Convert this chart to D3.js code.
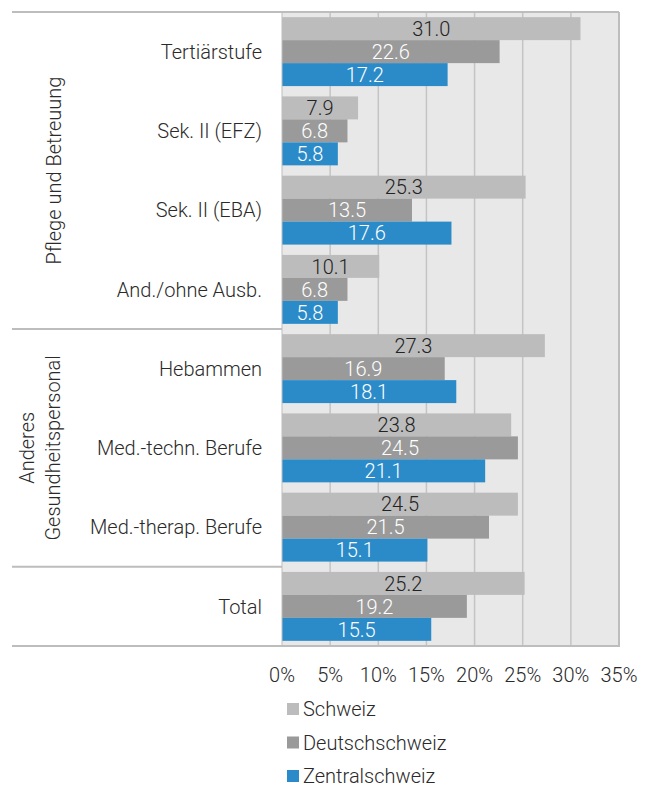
<!DOCTYPE html>
<html><head><meta charset="utf-8">
<script src="https://cdn.jsdelivr.net/npm/d3@7"></script>
<style>
body{margin:0;background:#fff;}
text{font-family:Roboto,"Noto Sans",sans-serif;font-weight:300;}
</style></head>
<body>
<svg id="c" width="651" height="788"></svg>
<script>
const categories = ["Tertiärstufe","Sek. II (EFZ)","Sek. II (EBA)","And./ohne Ausb.","Hebammen","Med.-techn. Berufe","Med.-therap. Berufe","Total"];
const seriesNames = ["Schweiz","Deutschschweiz","Zentralschweiz"];
const schweiz = [31.0,7.9,25.3,10.1,27.3,23.8,24.5,25.2];
const deutschschweiz = [22.6,6.8,13.5,6.8,16.9,24.5,21.5,19.2];
const zentralschweiz = [17.2,5.8,17.6,5.8,18.1,21.1,15.1,15.5];
const tickValues = [0,5,10,15,20,25,30,35];
const groups = [
  {lines:["Pflege und Betreuung"], from:0, to:3},
  {lines:["Anderes","Gesundheitspersonal"], from:4, to:6}
];
(function(){
const colors = ["#bcbcbc","#9a9a9a","#2b8bc9"];
const textColors = ["#222222","#ffffff","#ffffff"];
const seriesData = [schweiz, deutschschweiz, zentralschweiz];
const fs = 20;

const svg = d3.select("#c");
const pL = 282, pR = 619, pT = 12, pB = 646;
const x = d3.scaleLinear().domain([0,35]).range([pL,pR]);
const y = d3.scaleBand().domain(categories).range([pT,pB]).paddingInner(0.13).paddingOuter(0.065);
const ys = d3.scaleBand().domain(seriesNames).range([0,y.bandwidth()]);

svg.append("rect").attr("x",pL).attr("y",pT).attr("width",pR-pL).attr("height",pB-pT).attr("fill","#e8e8e8");
svg.append("g").selectAll("line").data(tickValues.slice(1,-1)).join("line")
  .attr("x1",d=>x(d)).attr("x2",d=>x(d)).attr("y1",pT).attr("y2",pB)
  .attr("stroke","#c4c4c4").attr("stroke-width",1.5);

const cg = svg.append("g").selectAll("g").data(categories).join("g")
  .attr("transform",d=>`translate(0,${y(d)})`);
seriesNames.forEach((s,si)=>{
  cg.append("rect")
    .attr("x",x(0)).attr("y",ys(s))
    .attr("width",(d,i)=>x(seriesData[si][i])-x(0))
    .attr("height",ys.bandwidth())
    .attr("fill",colors[si]);
  cg.append("text")
    .attr("x",(d,i)=>(x(0)+x(seriesData[si][i]))/2)
    .attr("y",ys(s)+ys.bandwidth()/2)
    .attr("dy","0.36em")
    .attr("text-anchor","middle")
    .attr("font-size",fs)
    .attr("fill",textColors[si])
    .text((d,i)=>seriesData[si][i].toFixed(1));
});

const bc = "#bdbdbd";
svg.append("line").attr("x1",pR).attr("x2",pR).attr("y1",pT).attr("y2",pB+1).attr("stroke",bc).attr("stroke-width",2);
svg.append("line").attr("x1",pL).attr("x2",pR+1).attr("y1",pB).attr("y2",pB).attr("stroke",bc).attr("stroke-width",2);
svg.append("line").attr("x1",pL).attr("x2",pR).attr("y1",pT).attr("y2",pT).attr("stroke",bc).attr("stroke-width",2);
svg.append("line").attr("x1",pL).attr("x2",pL).attr("y1",pT).attr("y2",pB).attr("stroke",bc).attr("stroke-width",1);

const sepYs = [pT, y(categories[4]) - y.step()*y.paddingInner()/2, y(categories[7]) - y.step()*y.paddingInner()/2, pB];
svg.append("g").selectAll("line").data(sepYs).join("line")
  .attr("x1",12).attr("x2",pL).attr("y1",d=>d).attr("y2",d=>d)
  .attr("stroke",bc).attr("stroke-width",2);

svg.append("g").selectAll("text").data(categories).join("text")
  .attr("x",262).attr("y",d=>y(d)+y.bandwidth()/2).attr("dy","0.36em")
  .attr("text-anchor","end").attr("font-size",fs).attr("fill","#2a2a2a")
  .text(d=>d);

groups.forEach((g,gi)=>{
  const y0 = sepYs[gi], y1 = sepYs[gi+1];
  const cy = (y0+y1)/2;
  const n = g.lines.length;
  const t = svg.append("text").attr("transform",`translate(${n===1?54:40},${cy}) rotate(-90)`)
    .attr("text-anchor","middle").attr("font-size",fs).attr("fill","#2a2a2a");
  g.lines.forEach((l,li)=>{
    t.append("tspan").attr("x",0).attr("y",(li-(n-1)/2)*26).attr("dy","0.36em").text(l);
  });
});

svg.append("g").selectAll("text").data(tickValues).join("text")
  .attr("x",d=>x(d)).attr("y",675).attr("dy","0.36em").attr("text-anchor","middle")
  .attr("font-size",fs).attr("fill","#2a2a2a").text(d=>d+"%");

const lg = svg.append("g").selectAll("g").data(seriesNames).join("g")
  .attr("transform",(d,i)=>`translate(287,${709+i*33.5})`);
lg.append("rect").attr("x",0).attr("y",-6).attr("width",12).attr("height",12).attr("fill",(d,i)=>colors[i]);
lg.append("text").attr("x",16).attr("y",0).attr("dy","0.35em").attr("font-size",fs).attr("fill","#2a2a2a").text(d=>d);
})();
</script>
</body></html>
